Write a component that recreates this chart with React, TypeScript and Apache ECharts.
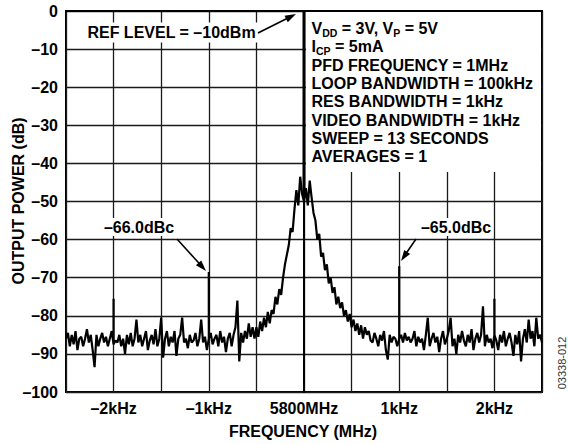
import React, { useEffect, useRef } from "react";
import * as echarts from "echarts";

// ---- data ----
const freqStartKHz = -2.5;
const freqStepKHz = 0.02;
const noiseDb = [
  -86, -84.5, -88, -85, -87.5, -84, -89, -86, -85.5, -88,
  -86, -83.5, -87, -85, -89, -93.5, -85, -88, -86, -84.5,
  -87, -85.5, -88, -86, -84, -87.5, -86.5, -87, -85, -88,
  -86, -90, -85, -87.5, -84.5, -88, -86, -81, -87, -85,
  -88, -86, -84, -89, -86.5, -85, -87.5, -83.5, -88, -86,
  -80.5, -91, -86, -84, -88, -85.5, -87, -84, -90.5, -86,
  -85, -80.5, -87, -86, -88.5, -85, -87, -86.5, -84.5, -88,
  -86, -81, -87, -85.5, -89, -86, -84.5, -87.5, -86, -85,
  -88, -84, -87, -85.5, -89.5, -86, -84.5, -88, -85, -83,
  -76, -92, -84.5, -87, -84, -86, -82, -85.5, -83, -86,
  -83, -85.5, -81.5, -84, -80.5, -83, -79, -82, -78.5, -79.5,
  -75, -77, -73, -74.5, -70, -66.5, -64, -61.5, -57, -58,
  -52, -47, -51, -43.5, -48,
  -50,
  -46.5, -51, -44.5, -49, -53,
  -55, -60, -58.5, -64.5, -63.5, -68, -66.5, -71.5, -70, -74,
  -72.5, -77, -75, -78, -76.5, -80, -78.5, -81.5, -79.5, -83,
  -81, -84, -82, -85, -82.5, -86, -83, -85, -84, -86.5,
  -87, -84.5, -86, -88, -85, -86.5, -84, -89, -91.5, -85,
  -87, -85.5, -86, -88, -86, -85, -87, -84.5, -86.5, -85.5,
  -87, -86, -84, -88, -85.5, -87, -86, -89, -85, -80.5,
  -88, -86, -84.5, -87, -85.5, -89.5, -86, -84, -87.5, -86,
  -84, -80.5, -88, -86, -90, -85, -87, -84, -86.5, -88,
  -85, -87, -83.5, -89, -86, -84.5, -87, -85, -77.5, -88,
  -85, -87, -86, -88.5, -85, -86.5, -89, -85, -87, -84,
  -88, -86, -84.5, -87, -90.5, -85, -87.5, -84, -92, -86,
  -83.5, -87, -81, -86, -84, -88, -80.5, -86, -85, -87,
];
const spurFreqKHz = [-2, -1, 1, 2];
const spurPeakDb = [-75.5, -68.5, -67, -75.5];
const carrierFreqKHz = [0, 0];
const carrierDb = [-49, 0];

const yTicks = [0, -10, -20, -30, -40, -50, -60, -70, -80, -90, -100];
const xTickValues = [-2, -1, 0, 1, 2];
const xTickLabels = ["\u20132kHz", "\u20131kHz", "5800MHz", "1kHz", "2kHz"];

const boxLines: { t: string; sub?: boolean }[][] = [
  [{ t: "V" }, { t: "DD", sub: true }, { t: " = 3V, V" }, { t: "P", sub: true }, { t: " = 5V" }],
  [{ t: "I" }, { t: "CP", sub: true }, { t: " = 5mA" }],
  [{ t: "PFD FREQUENCY = 1MHz" }],
  [{ t: "LOOP BANDWIDTH = 100kHz" }],
  [{ t: "RES BANDWIDTH = 1kHz" }],
  [{ t: "VIDEO BANDWIDTH = 1kHz" }],
  [{ t: "SWEEP = 13 SECONDS" }],
  [{ t: "AVERAGES = 1" }],
];

const FONT = "'Liberation Sans', Arial, Helvetica, sans-serif";
const FS = 16;
const SUB_FS = 10.5;

function buildTrace(): number[][] {
  const out: number[][] = [];
  noiseDb.forEach((v, i) => {
    const f = Math.round((freqStartKHz + i * freqStepKHz) * 1000) / 1000;
    out.push([f, v]);
    const k = spurFreqKHz.findIndex((s) => Math.abs(s - f) < 1e-6);
    if (k >= 0) {
      out.push([f, spurPeakDb[k]]);
      out.push([f, v]);
    }
  });
  return out;
}

function arrow(x1: number, y1: number, x2: number, y2: number) {
  const dx = x2 - x1;
  const dy = y2 - y1;
  const len = Math.sqrt(dx * dx + dy * dy);
  const ux = dx / len;
  const uy = dy / len;
  const nx = -uy;
  const ny = ux;
  const hl = 11;
  const hw = 3.6;
  const bx = x2 - hl * ux;
  const by = y2 - hl * uy;
  return [
    {
      type: "line",
      z: 100,
      shape: { x1, y1, x2: bx + ux * 2, y2: by + uy * 2 },
      style: { stroke: "#000", lineWidth: 1.6 },
    },
    {
      type: "polygon",
      z: 100,
      shape: {
        points: [
          [x2, y2],
          [bx + hw * nx, by + hw * ny],
          [bx - hw * nx, by - hw * ny],
        ],
      },
      style: { fill: "#000" },
    },
  ];
}

function measure(text: string, size: number): number {
  const ctx = document.createElement("canvas").getContext("2d");
  if (!ctx) return text.length * size * 0.6;
  ctx.font = `bold ${size}px 'Liberation Sans', Arial, sans-serif`;
  return ctx.measureText(text).width;
}

function boxTexts() {
  const els: any[] = [];
  const x0 = 311.5;
  const base0 = 34;
  const step = 18.35;
  boxLines.forEach((segs, li) => {
    let x = x0;
    const base = base0 + li * step;
    segs.forEach((s) => {
      const size = s.sub ? SUB_FS : FS;
      const b = s.sub ? base + 2.3 : base;
      els.push({
        type: "text",
        z: 100,
        x,
        y: b - 0.35 * size,
        style: {
          text: s.t,
          fontSize: size,
          fontWeight: "bold",
          fontFamily: FONT,
          fill: "#000",
          align: "left",
          verticalAlign: "middle",
        },
      });
      x += measure(s.t, size);
    });
  });
  return els;
}

function label(text: string, x: number, y: number, extra: any = {}) {
  return {
    type: "text",
    z: 100,
    x,
    y,
    ...extra,
    style: {
      text,
      fontSize: FS,
      fontWeight: "bold",
      fontFamily: FONT,
      fill: "#000",
      align: "center",
      verticalAlign: "middle",
      ...(extra.style || {}),
    },
  };
}

export default function App() {
  const ref = useRef<HTMLDivElement>(null);
  useEffect(() => {
    if (!ref.current) return;
    const chart = echarts.init(ref.current, null, { renderer: "svg" });
    const trace = buildTrace();
    const labelMap: Record<string, string> = {};
    xTickValues.forEach((v, i) => (labelMap[String(v)] = xTickLabels[i]));

    chart.setOption({
      animation: false,
      backgroundColor: "#fff",
      grid: {
        left: 66,
        top: 11,
        right: 26,
        bottom: 52,
        show: true,
        borderColor: "#000",
        borderWidth: 2,
        outerBoundsMode: "none",
        containLabel: false,
      },
      xAxis: {
        type: "value",
        min: -2.5,
        max: 2.5,
        interval: 0.5,
        axisLine: { show: true, lineStyle: { color: "#000", width: 2 } },
        axisTick: { show: false },
        axisLabel: {
          margin: 8,
          fontSize: FS,
          fontWeight: "bold",
          color: "#000",
          fontFamily: FONT,
          showMinLabel: true,
          showMaxLabel: true,
          formatter: (v: number) => {
            const key = String(Math.round(v * 10) / 10);
            return labelMap[key] ?? "";
          },
        },
        splitLine: { show: true, lineStyle: { color: "#1a1a1a", width: 1.3 } },
      },
      yAxis: {
        type: "value",
        min: -100,
        max: 0,
        interval: 10,
        axisLine: { show: true, lineStyle: { color: "#000", width: 2 } },
        axisTick: { show: false },
        axisLabel: {
          margin: 8,
          fontSize: FS,
          fontWeight: "bold",
          color: "#000",
          fontFamily: FONT,
          formatter: (v: number) =>
            yTicks.includes(v) ? (v === 0 ? "0" : "\u2013" + Math.abs(v)) : "",
        },
        splitLine: { show: true, lineStyle: { color: "#1a1a1a", width: 1.3 } },
      },
      series: [
        {
          type: "line",
          data: trace,
          symbol: "none",
          lineStyle: { color: "#000", width: 2.2 },
          z: 5,
        },
        {
          type: "line",
          data: carrierFreqKHz.map((f, i) => [f, carrierDb[i]]),
          symbol: "none",
          lineStyle: { color: "#000", width: 3 },
          z: 6,
        },
      ],
      graphic: [
        {
          type: "rect",
          z: 90,
          shape: { x: 306, y: 12, width: 235, height: 160 },
          style: { fill: "#fff" },
        },
        ...boxTexts(),
        label("REF LEVEL = \u201310dBm", 171.5, 32.5, {
          style: { backgroundColor: "#fff", padding: [2, 3] },
        }),
        ...arrow(258, 33, 296, 14),
        label("\u201366.0dBc", 139, 227, { style: { backgroundColor: "#fff", padding: [1, 2] } }),
        ...arrow(177, 239, 206, 271),
        label("\u201365.0dBc", 456, 227, { style: { backgroundColor: "#fff", padding: [1, 2] } }),
        ...arrow(416, 239, 401, 261),
        label("FREQUENCY (MHz)", 303, 431),
        label("OUTPUT POWER (dB)", 18.5, 201, { rotation: Math.PI / 2 }),
        {
          type: "text",
          z: 100,
          x: 562,
          y: 363,
          rotation: Math.PI / 2,
          style: {
            text: "03338-012",
            fontSize: 11,
            fontFamily: FONT,
            fill: "#333",
            align: "center",
            verticalAlign: "middle",
          },
        },
      ],
    });
    return () => chart.dispose();
  }, []);
  return (
    <div
      ref={ref}
      style={{ position: "absolute", left: 0, top: 0, width: 568, height: 444, background: "#fff" }}
    />
  );
}
